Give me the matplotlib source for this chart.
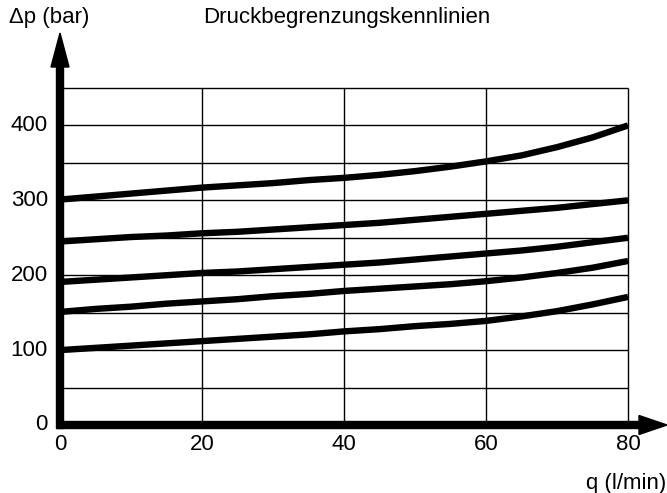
import matplotlib
matplotlib.use("Agg")
import matplotlib.pyplot as plt
from matplotlib.patches import FancyArrow

plt.rcParams['font.family'] = ['Liberation Sans', 'DejaVu Sans']

q = [0, 5, 10, 15, 20, 25, 30, 35, 40, 45, 50, 55, 60, 65, 70, 75, 80]
curve_300 = [301, 305, 309, 313, 317, 320, 323, 327, 330, 334, 339, 345, 352, 360, 371, 384, 400]
curve_245 = [245, 248, 251, 253, 256, 258, 261, 264, 267, 270, 274, 278, 282, 286, 290, 295, 300]
curve_190 = [191, 194, 197, 200, 203, 205, 208, 211, 214, 217, 221, 225, 229, 233, 238, 244, 250]
curve_150 = [151, 155, 158, 162, 165, 168, 172, 175, 179, 182, 185, 188, 192, 197, 203, 210, 219]
curve_100 = [100, 103, 106, 109, 112, 115, 118, 121, 125, 128, 132, 135, 139, 145, 152, 161, 171]

x_ticks = [0, 20, 40, 60, 80]
y_ticks = [0, 100, 200, 300, 400]
x_grid = [20, 40, 60, 80]
y_grid = [50, 100, 150, 200, 250, 300, 350, 400, 450]

W, H = 667, 493
fig = plt.figure(figsize=(W / 100, H / 100), dpi=100)
x0, x1 = 60, 628
y0, y1 = 425, 88
ax = fig.add_axes([x0 / W, 1 - y0 / H, (x1 - x0) / W, (y0 - y1) / H])
ax.set_xlim(0, 80)
ax.set_ylim(0, 450)
for s in ax.spines.values():
    s.set_visible(False)
ax.set_xticks([])
ax.set_yticks([])

for gx in x_grid:
    ax.plot([gx, gx], [0, 450], color='black', lw=1.0, solid_capstyle='butt', clip_on=False)
for gy in y_grid:
    ax.plot([0, 80], [gy, gy], color='black', lw=1.0, solid_capstyle='butt', clip_on=False)

for c in [curve_300, curve_245, curve_190, curve_150, curve_100]:
    ax.plot(q, c, color='black', lw=4.6, solid_capstyle='butt', solid_joinstyle='round', clip_on=False)


def fx(px):
    return px / W


def fy(py):
    return 1 - py / H


fig.add_artist(FancyArrow(fx(57), fy(425), fx(667) - fx(57), 0,
               width=7 / H, head_width=19 / H, head_length=28 / W,
               length_includes_head=True, color='black', transform=fig.transFigure))
fig.add_artist(FancyArrow(fx(60), fy(428.5), 0, fy(33) - fy(428.5),
               width=7 / W, head_width=18 / W, head_length=34 / H,
               length_includes_head=True, color='black', transform=fig.transFigure))

for t in x_ticks:
    ax.text(t, -26, str(t), ha='center', va='center', fontsize=16)
for t in y_ticks:
    ax.text(-1.7, t, str(t), ha='right', va='center', fontsize=16)

fig.text(fx(9), fy(18), 'Δp (bar)', ha='left', va='center', fontsize=16)
fig.text(fx(347), fy(18), 'Druckbegrenzungskennlinien', ha='center', va='center', fontsize=16)
fig.text(fx(666), fy(483), 'q (l/min)', ha='right', va='center', fontsize=16)

fig.savefig('out.png', dpi=100)
